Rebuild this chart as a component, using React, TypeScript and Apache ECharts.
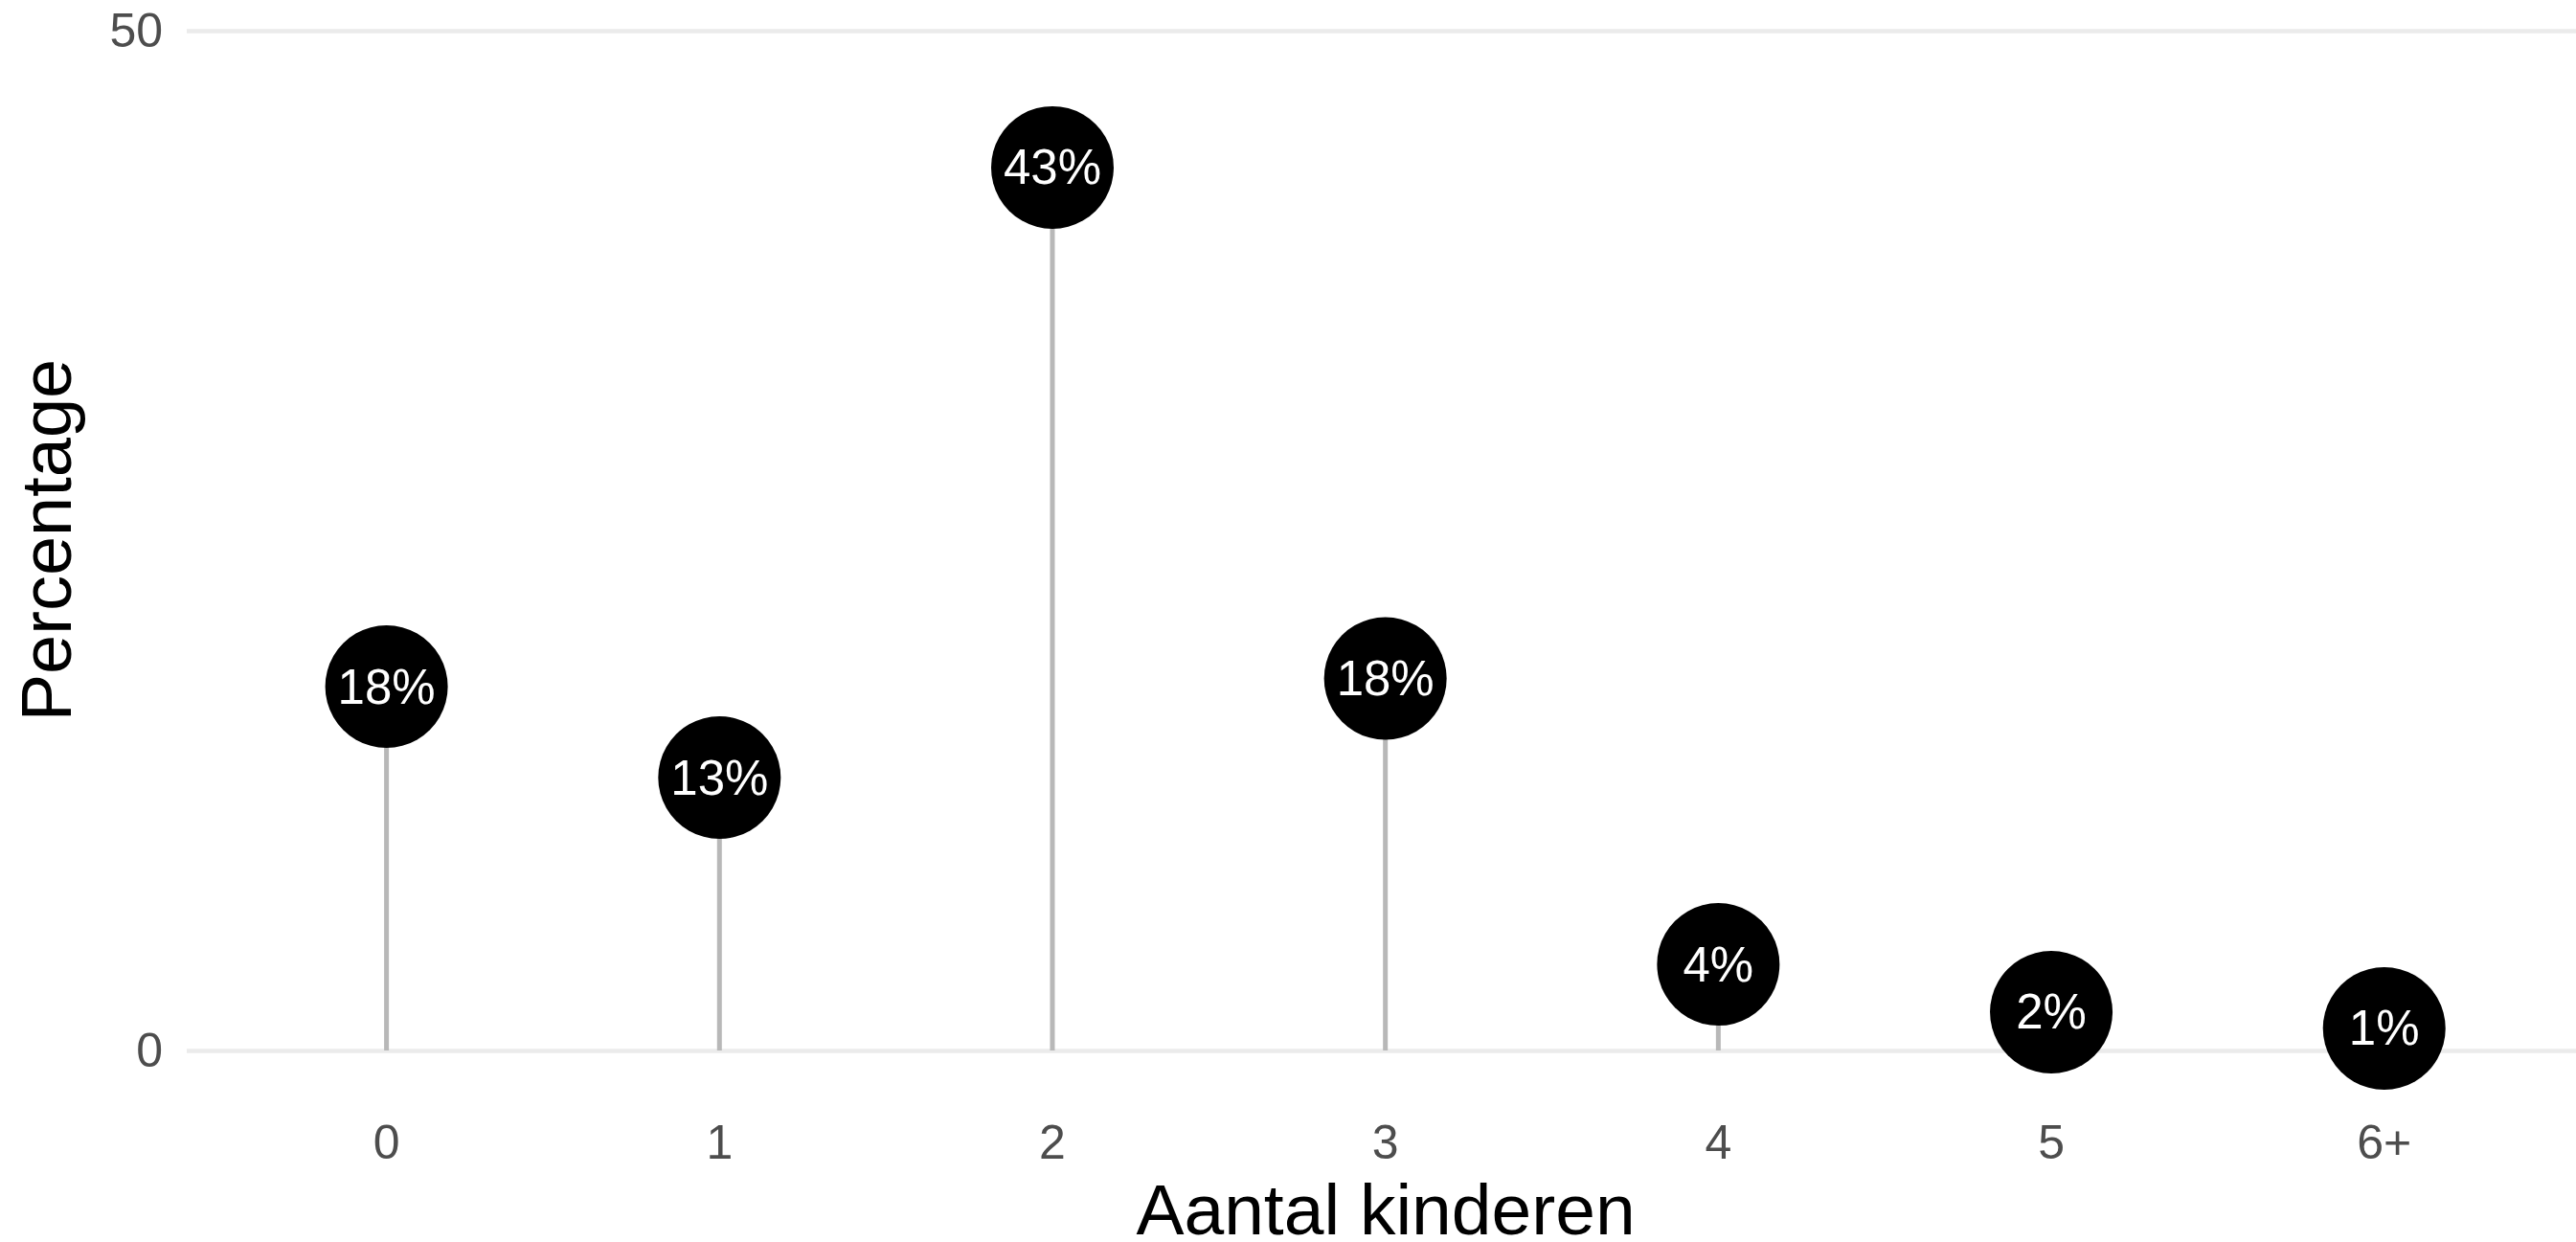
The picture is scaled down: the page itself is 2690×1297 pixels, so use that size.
import React, { useEffect, useRef } from "react";
import * as echarts from "echarts";

const categories = ["0", "1", "2", "3", "4", "5", "6+"];
const percentages = [17.84, 13.38, 43.29, 18.24, 4.22, 1.88, 1.08];
const yTicks = [0, 50];
const xTitle = "Aantal kinderen";
const yTitle = "Percentage";

const FONT = "'Liberation Sans', Arial, Helvetica, sans-serif";

export default function App() {
  const ref = useRef<HTMLDivElement>(null);
  useEffect(() => {
    if (!ref.current) return;
    const chart = echarts.init(ref.current, null, { renderer: "svg" });
    const data = percentages.map((v, i) => [i, v]);
    chart.setOption({
      animation: false,
      backgroundColor: "#FFFFFF",
      grid: { left: 195, top: 32, right: 0, height: 1065, containLabel: false },
      xAxis: {
        type: "value",
        min: -0.6,
        max: 6.576,
        axisLine: { show: false },
        axisTick: { show: false },
        splitLine: { show: false },
        axisLabel: {
          customValues: categories.map((_, i) => i),
          formatter: (v: number) => categories[Math.round(v)] ?? "",
          fontFamily: FONT,
          fontSize: 50,
          color: "#4D4D4D",
          margin: 71,
        },
      },
      yAxis: {
        type: "value",
        min: yTicks[0],
        max: yTicks[yTicks.length - 1],
        interval: 50,
        axisLine: { show: false },
        axisTick: { show: false },
        splitLine: { show: true, lineStyle: { color: "#EBEBEB", width: 4.5 } },
        axisLabel: {
          fontFamily: FONT,
          fontSize: 50,
          color: "#4D4D4D",
          margin: 25,
        },
      },
      graphic: [
        {
          type: "text",
          x: 48,
          y: 564,
          rotation: Math.PI / 2,
          style: {
            text: yTitle,
            font: `74px ${FONT}`,
            fill: "#000000",
            textAlign: "center",
            textVerticalAlign: "middle",
          },
        },
        {
          type: "text",
          x: 1447,
          y: 1263,
          style: {
            text: xTitle,
            font: `75px ${FONT}`,
            fill: "#000000",
            textAlign: "center",
            textVerticalAlign: "middle",
          },
        },
      ],
      series: [
        {
          type: "custom",
          data,
          clip: false,
          renderItem: (params: any, api: any) => {
            const x = api.value(0);
            const y = api.value(1);
            const p0 = api.coord([x, 0]);
            const p1 = api.coord([x, y]);
            return {
              type: "line",
              shape: { x1: p0[0], y1: p0[1], x2: p1[0], y2: p1[1] },
              style: { stroke: "#B8B8B8", lineWidth: 5 },
            };
          },
          z: 1,
        },
        {
          type: "scatter",
          data,
          clip: false,
          symbol: "circle",
          symbolSize: 128,
          itemStyle: { color: "#000000", opacity: 1 },
          label: {
            show: true,
            position: "inside",
            formatter: (p: any) => `${Math.round(p.value[1])}%`,
            fontFamily: FONT,
            fontSize: 51,
            color: "#FFFFFF",
          },
          z: 2,
        },
      ],
    });
    return () => chart.dispose();
  }, []);
  return (
    <div
      ref={ref}
      style={{ position: "fixed", left: 0, top: 0, width: 2690, height: 1297 }}
    />
  );
}
